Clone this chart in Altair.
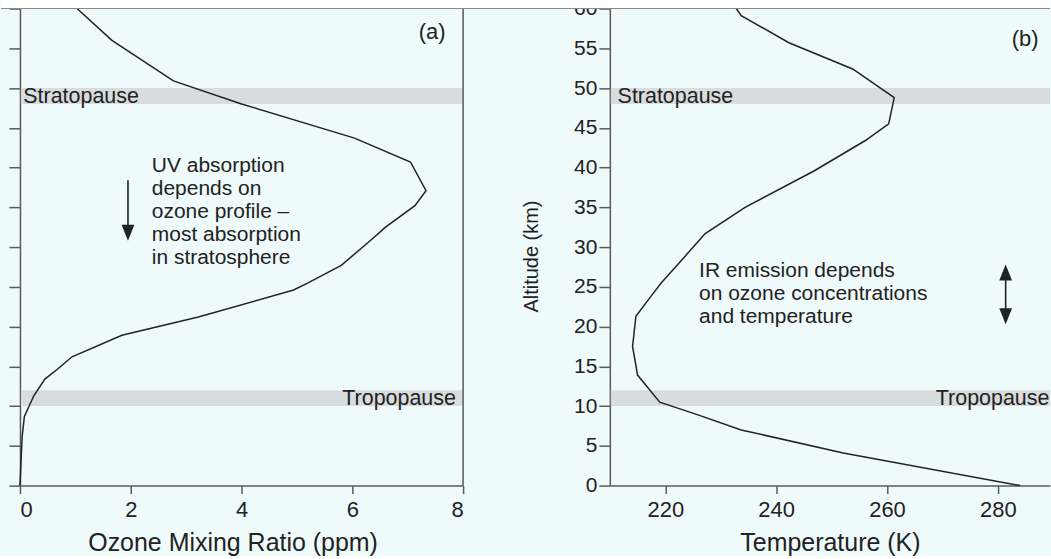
import altair as alt
import pandas as pd

# ---------------- data ----------------
# (a) ozone mixing ratio profile
ozone_km = [0, 6.2, 8.7, 11.3, 13.4, 14.6, 16.2, 18.9, 21.2, 24.6, 25.5, 27.7,
            30.6, 32.5, 35.2, 37.1, 40.7, 43.7, 48.0, 50.9, 56.0, 60.0]
ozone_ppm = [0.0, 0.04, 0.08, 0.25, 0.45, 0.67, 0.94, 1.84, 3.22, 4.94, 5.2, 5.80,
             6.29, 6.60, 7.13, 7.33, 7.05, 6.04, 4.0, 2.77, 1.66, 1.03]

# (b) temperature profile
temp_km = [0, 4.1, 7.0, 8.9, 10.5, 13.9, 17.5, 21.3, 23.8, 25.5, 28.0, 31.7,
           35.0, 39.6, 43.4, 45.5, 48.8, 52.4, 55.7, 59.1, 60.0]
temp_K = [284.0, 252.1, 233.7, 225.9, 219.0, 215.0, 214.1, 214.7, 217.4, 219.3, 222.5, 227.2,
          234.4, 246.9, 256.1, 260.3, 261.3, 253.8, 242.3, 233.7, 232.8]

# shaded layers
band_names = ["Tropopause", "Stratopause"]
band_lo = [10, 48]
band_hi = [12, 50]

alt_ticks = list(range(0, 61, 5))
ozone_ticks = [0, 2, 4, 6, 8]
temp_ticks = [220, 240, 260, 280]

uv_text = ["UV absorption", "depends on", "ozone profile \u2013",
           "most absorption", "in stratosphere"]
ir_text = ["IR emission depends", "on ozone concentrations", "and temperature"]

# ---------------- styling ----------------
FONT = "Liberation Sans"
INK = "#222222"
AXC = "#5a5a5a"
BG = "#effafa"
BAND = "#d9dcdc"
W1, W2, H = 444, 441, 478

yscale = alt.Scale(domain=[0, 60], nice=False, zero=False)
xs_a = alt.Scale(domain=[0, 8], nice=False)
xs_b = alt.Scale(domain=[210, 289.4], nice=False, zero=False)

one = pd.DataFrame({"a": [0]})


def panel(xs, xaxis, yaxis, line_df, width, notes, strip, border):
    Y = lambda f: alt.Y(f, type="quantitative", scale=yscale, axis=yaxis)
    X = lambda f: alt.X(f, type="quantitative", scale=xs, axis=xaxis)

    line = alt.Chart(line_df).mark_line(color=INK, strokeWidth=1.5).encode(
        x=X("v"), y=Y("km"), order=alt.Order("km:Q"))

    bands = alt.Chart(pd.DataFrame({"lo": band_lo, "hi": band_hi})).mark_rect(
        color=BAND).encode(x=alt.value(1), x2=alt.value(width),
                           y=Y("lo"), y2="hi:Q")

    layers = [bands, line]
    for n in notes:
        kind = n["kind"]
        df = pd.DataFrame({"x": [n["x"]], "y": [n["y"]]})
        if kind == "text":
            layers.append(alt.Chart(df).mark_text(
                text=n["text"], align=n.get("align", "left"),
                baseline=n.get("baseline", "middle"), fontSize=n.get("size", 21.5),
                lineHeight=n.get("lh", 23), font=FONT, color=INK).encode(
                x=X("x"), y=Y("y")))
        elif kind == "rule":
            df = pd.DataFrame({"x": [n["x"]], "y": [n["y"]], "y2": [n["y2"]]})
            layers.append(alt.Chart(df).mark_rule(color=INK, strokeWidth=1.6).encode(
                x=X("x"), y=Y("y"), y2="y2:Q"))
        elif kind == "head":
            layers.append(alt.Chart(df).mark_point(
                shape=n["shape"], size=256, filled=True, color=INK, opacity=1,
                strokeWidth=0).encode(x=X("x"), y=Y("y")))

    # white strip at the very top of the picture and its edge line
    layers.append(alt.Chart(one).mark_rect(color="white").encode(
        x=alt.value(strip[0]), x2=alt.value(strip[1]),
        y=alt.value(-12), y2=alt.value(0)))
    layers.append(alt.Chart(one).mark_rule(color="#8a8a8a", strokeWidth=1.2).encode(
        x=alt.value(strip[0]), x2=alt.value(strip[1]), y=alt.value(0)))
    if border:
        layers.append(alt.Chart(one).mark_rule(color=AXC, strokeWidth=1.5).encode(
            x=alt.value(width), y=alt.value(0), y2=alt.value(H)))
    return alt.layer(*layers).properties(width=width, height=H)


axis_common = dict(grid=False, domainColor=AXC, tickColor=AXC, domainWidth=1.5,
                   tickWidth=1.5, labelColor=INK, titleColor=INK, zindex=0,
                   titleFontWeight="normal")

xaxis_a = alt.Axis(values=ozone_ticks, title="Ozone Mixing Ratio (ppm)",
                   tickSize=8, labelPadding=6, labelFontSize=22, titleFontSize=25,
                   titlePadding=10, titleX=213, **axis_common)
yaxis_a = alt.Axis(values=alt_ticks, labels=False, title=None, tickSize=11, **axis_common)

xaxis_b = alt.Axis(values=temp_ticks, title="Temperature (K)",
                   tickSize=8, labelPadding=6, labelFontSize=22, titleFontSize=25,
                   titlePadding=10, **axis_common)
yaxis_b = alt.Axis(values=alt_ticks, title="Altitude (km)", tickSize=11,
                   labelPadding=2, labelFontSize=21, titleFontSize=20, titlePadding=32,
                   titleY=248, **axis_common)

notes_a = [
    {"kind": "text", "x": 7.44, "y": 57.0, "text": "(a)", "align": "center", "size": 22},
    {"kind": "text", "x": 0.06, "y": 48.9, "text": band_names[1]},
    {"kind": "text", "x": 7.87, "y": 10.9, "text": band_names[0], "align": "right"},
    {"kind": "text", "x": 2.38, "y": 39.4, "text": uv_text, "baseline": "alphabetic",
     "size": 21},
    {"kind": "rule", "x": 1.95, "y": 38.4, "y2": 32.6},
    {"kind": "head", "x": 1.95, "y": 31.8, "shape": "M-0.8,-1L0.8,-1L0,1Z"},
]
notes_b = [
    {"kind": "text", "x": 284.9, "y": 56.2, "text": "(b)", "align": "center", "size": 22},
    {"kind": "text", "x": 211.4, "y": 48.9, "text": band_names[1]},
    {"kind": "text", "x": 289.3, "y": 10.9, "text": band_names[0], "align": "right"},
    {"kind": "text", "x": 226.1, "y": 26.2, "text": ir_text, "baseline": "alphabetic",
     "size": 21},
    {"kind": "rule", "x": 281.4, "y": 26.6, "y2": 21.4},
    {"kind": "head", "x": 281.4, "y": 26.8, "shape": "M-0.8,1L0.8,1L0,-1Z"},
    {"kind": "head", "x": 281.4, "y": 21.3, "shape": "M-0.8,-1L0.8,-1L0,1Z"},
]

ozone_df = pd.DataFrame({"km": ozone_km, "v": ozone_ppm})
temp_df = pd.DataFrame({"km": temp_km, "v": temp_K})

left = panel(xs_a, xaxis_a, yaxis_a, ozone_df, W1, notes_a, (-19, 1030), True)
right = panel(xs_b, xaxis_b, yaxis_b, temp_df, W2, notes_b, (-160, W2), False)

chart = alt.hconcat(left, right, spacing=147, bounds="flush").properties(
    background=BG,
    padding={"left": 0, "top": -4, "right": 0, "bottom": 0},
).configure_view(stroke=None).configure_axis(labelFont=FONT, titleFont=FONT)

chart.save("out.html", embed_options={"renderer": "svg", "actions": False})
